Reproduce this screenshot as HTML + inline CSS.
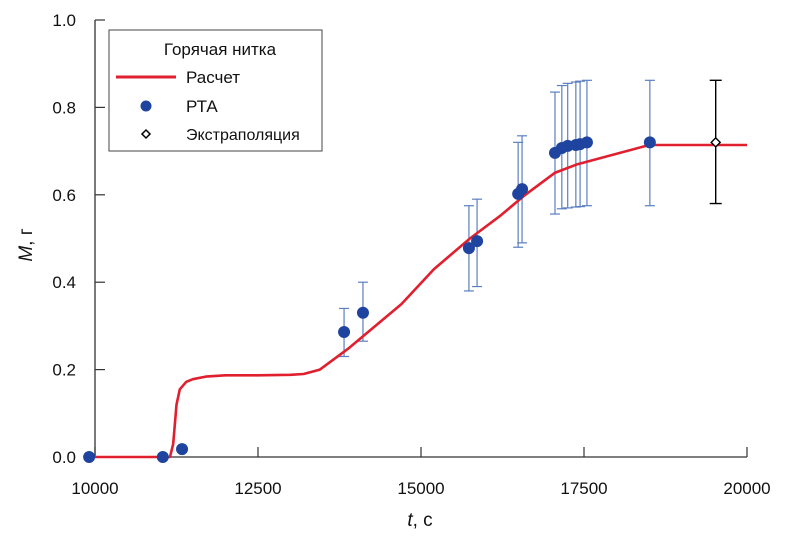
<!DOCTYPE html>
<html><head><meta charset="utf-8"><style>
body{margin:0;background:#fff}
svg{display:block;font-family:"Liberation Sans",Arial,sans-serif}
</style></head><body>
<svg id="chart" width="810" height="540">
<g id="axes"></g>
<g id="marks"></g>
<g>
<rect x="109" y="30" width="213" height="121" fill="#fff" stroke="#444" stroke-width="1"/>
<text x="220" y="55" font-size="17" text-anchor="middle" fill="#111">Горячая нитка</text>
<line x1="116" y1="77" x2="176" y2="77" stroke="#e0202f" stroke-width="3"/>
<text x="186" y="83" font-size="17" fill="#111">Расчет</text>
<circle cx="146" cy="106" r="5.5" fill="#1f44a0"/>
<text x="186" y="112" font-size="17" fill="#111">РТА</text>
<path d="M146,130 l4,4 l-4,4 l-4,-4z" fill="#fff" stroke="#000" stroke-width="1.5"/>
<text x="186" y="140" font-size="16" fill="#111">Экстраполяция</text>
</g>
<text x="420" y="526" font-size="19" text-anchor="middle" fill="#111"><tspan font-style="italic">t</tspan>, с</text>
<text transform="translate(32,245) rotate(-90)" font-size="19" text-anchor="middle" fill="#111"><tspan font-style="italic">M</tspan>, г</text>
</svg>
<script>
const xTicks=[10000,12500,15000,17500,20000];
const yTicks=[0.0,0.2,0.4,0.6,0.8,1.0];
const calcT=[10000,11150,11200,11250,11300,11400,11500,11700,12000,12500,13000,13200,13450,13900,14300,14700,15200,15750,16200,16600,17050,17400,18500,20000];
const calcM=[0,0,0.03,0.12,0.155,0.172,0.178,0.184,0.187,0.187,0.188,0.19,0.2,0.25,0.3,0.35,0.43,0.5,0.55,0.6,0.65,0.67,0.714,0.714];
const rtaT=[9910,11040,11335,13820,14110,15735,15860,16490,16550,17055,17160,17250,17375,17440,17545,18510];
const rtaM=[0,0,0.018,0.286,0.33,0.478,0.494,0.602,0.613,0.696,0.707,0.712,0.714,0.716,0.72,0.72];
const rtaLo=[null,null,null,0.23,0.265,0.38,0.39,0.48,0.49,0.556,0.568,0.57,0.572,0.573,0.575,0.575];
const rtaHi=[null,null,null,0.34,0.4,0.575,0.59,0.72,0.735,0.835,0.85,0.855,0.858,0.86,0.862,0.862];
const extT=[19520],extM=[0.72],extLo=[0.58],extHi=[0.862];
const NS='http://www.w3.org/2000/svg';
const X=t=>95+(t-10000)/10000*652;
const Y=m=>457-m*437;
function mk(tag,attrs,parent){const e=document.createElementNS(NS,tag);for(const k in attrs)e.setAttribute(k,attrs[k]);parent.appendChild(e);return e;}
const ax=document.getElementById('axes'),mg=document.getElementById('marks');
let e=mk('line',{x1:95,y1:20,x2:95,y2:457,stroke:'#333','stroke-width':1.3},ax);


e=mk('line',{x1:95,y1:457,x2:747,y2:457,stroke:'#333','stroke-width':1.3},ax);


xTicks.forEach(t=>{
 const l=mk('line',{x1:X(t),y1:457,x2:X(t),y2:447,stroke:'#333','stroke-width':1.2},ax);
 
 
 const s=mk('text',{x:X(t),y:494,'font-size':17,'text-anchor':'middle',fill:'#111'},ax);s.textContent=t;
 
 
});
yTicks.forEach(m=>{
 const l=mk('line',{x1:95,y1:Y(m),x2:105,y2:Y(m),stroke:'#333','stroke-width':1.2},ax);
 
 
 const s=mk('text',{x:76,y:Y(m)+6,'font-size':17,'text-anchor':'end',fill:'#111'},ax);s.textContent=m.toFixed(1);
 
 
});
// error bars
rtaT.forEach((t,i)=>{
 if(rtaLo[i]==null)return;
 const g=mk('g',{stroke:'#5b7fc0','stroke-width':1.2},mg);
 
 
 mk('line',{x1:X(t),y1:Y(rtaLo[i]),x2:X(t),y2:Y(rtaHi[i])},g);
 mk('line',{x1:X(t)-5,y1:Y(rtaLo[i]),x2:X(t)+5,y2:Y(rtaLo[i])},g);
 mk('line',{x1:X(t)-5,y1:Y(rtaHi[i]),x2:X(t)+5,y2:Y(rtaHi[i])},g);
});
let d=calcT.map((t,i)=>(i?'L':'M')+X(t).toFixed(1)+','+Y(calcM[i]).toFixed(1)).join(' ');
e=mk('path',{d:d,fill:'none',stroke:'#e0202f','stroke-width':2.6,'stroke-linejoin':'round'},mg);


rtaT.forEach((t,i)=>{
 const c=mk('circle',{cx:X(t),cy:Y(rtaM[i]),r:6,fill:'#1f44a0'},mg);
 
 
});
extT.forEach((t,i)=>{
 const g=mk('g',{stroke:'#000','stroke-width':1.4},mg);
 
 
 mk('line',{x1:X(t),y1:Y(extLo[i]),x2:X(t),y2:Y(extHi[i])},g);
 mk('line',{x1:X(t)-6,y1:Y(extLo[i]),x2:X(t)+6,y2:Y(extLo[i])},g);
 mk('line',{x1:X(t)-6,y1:Y(extHi[i]),x2:X(t)+6,y2:Y(extHi[i])},g);
 const y=Y(extM[i]);
 mk('path',{d:`M${X(t)},${y-4.5} l4.5,4.5 l-4.5,4.5 l-4.5,-4.5z`,fill:'#fff'},g);
});
</script>
</body></html>
